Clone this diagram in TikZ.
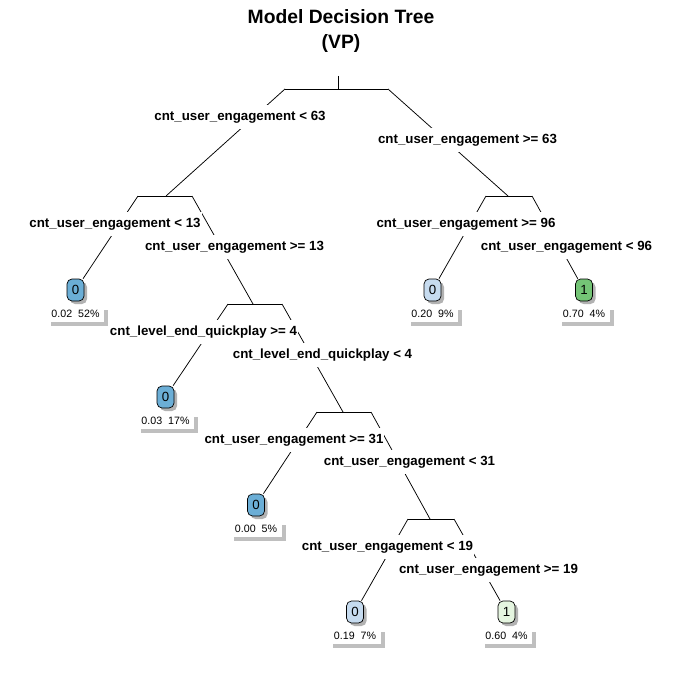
\documentclass[tikz,border=0pt]{standalone}
\usepackage{fontspec}
\setmainfont{Liberation Sans}
\usetikzlibrary{shadows,positioning}

\definecolor{leafdark}{RGB}{107,174,214}
\definecolor{leaflight}{RGB}{198,219,239}
\definecolor{leafgreen}{RGB}{116,196,118}
\definecolor{leafpale}{RGB}{229,245,224}

\begin{document}
\begin{tikzpicture}[
  x=1pt,y=-1pt,
  branch/.style={line width=0.75pt},
  split/.style={fill=white,inner xsep=1pt,inner ysep=0pt,minimum height=24pt,
                yshift=-2pt,font=\fontsize{13.3}{15}\selectfont\bfseries},
  leaf/.style={draw,line width=0.7pt,rounded corners=5pt,minimum width=17pt,
               minimum height=22pt,inner sep=0pt,font=\fontsize{13.3}{15}\selectfont,
               drop shadow={shadow xshift=3pt,shadow yshift=-3pt,fill=black!30,opacity=1}},
  share/.style={fill=white,inner xsep=4.5pt,inner ysep=0pt,minimum height=16pt,
                font=\fontsize{10.67}{12}\selectfont,
                drop shadow={shadow xshift=4pt,shadow yshift=-4pt,fill=black!25,opacity=1}}
]
\useasboundingbox (0,0) rectangle (684,682);

\node[font=\fontsize{19.3}{25}\selectfont\bfseries,align=center] (title) at (341,31)
  {Model Decision Tree\\(VP)};

% split bars
\coordinate (top) at (338,76);
\coordinate (b1l) at (285,89);  \coordinate (b1r) at (388,89);
\coordinate (b2)  at (166,196); \coordinate (b2l) at (138,196); \coordinate (b2r) at (192,196);
\coordinate (b3)  at (508,196); \coordinate (b3l) at (486,196); \coordinate (b3r) at (532,196);
\coordinate (b4)  at (253,304); \coordinate (b4l) at (228,304); \coordinate (b4r) at (282,304);
\coordinate (b5)  at (343,412); \coordinate (b5l) at (317,412); \coordinate (b5r) at (371,412);
\coordinate (b6)  at (430,519); \coordinate (b6l) at (408,519); \coordinate (b6r) at (454,519);

% leaves
\node[leaf,fill=leafdark]  (l1) at (75.5,290) {0};
\node[leaf,fill=leafdark]  (l2) at (165.5,397) {0};
\node[leaf,fill=leafdark]  (l3) at (256,505) {0};
\node[leaf,fill=leaflight] (l4) at (355,612) {0};
\node[leaf,fill=leafpale]  (l5) at (506.5,612) {1};
\node[leaf,fill=leaflight] (l6) at (432.5,290) {0};
\node[leaf,fill=leafgreen] (l7) at (584,290) {1};

\node[share,below=4pt of l1] (p1) {0.02\ \ 52\%};
\node[share,below=4pt of l2] (p2) {0.03\ \ 17\%};
\node[share,below=4pt of l3] (p3) {0.00\ \ 5\%};
\node[share,below=4pt of l4] (p4) {0.19\ \ 7\%};
\node[share,below=4pt of l5] (p5) {0.60\ \ 4\%};
\node[share,below=4pt of l6] (p6) {0.20\ \ 9\%};
\node[share,below=4pt of l7] (p7) {0.70\ \ 4\%};

% branches
\draw[branch] (top) -- (top |- b1l);
\draw[branch] (b1l) -- (b1r);
\draw[branch] (b1l) -- (b2);
\draw[branch] (b1r) -- (b3);
\draw[branch] (b2l) -- (b2r);
\draw[branch] (b2l) -- (l1);
\draw[branch] (b2r) -- (b4);
\draw[branch] (b3l) -- (b3r);
\draw[branch] (b3l) -- (l6);
\draw[branch] (b3r) -- (l7);
\draw[branch] (b4l) -- (b4r);
\draw[branch] (b4l) -- (l2);
\draw[branch] (b4r) -- (b5);
\draw[branch] (b5l) -- (b5r);
\draw[branch] (b5l) -- (l3);
\draw[branch] (b5r) -- (b6);
\draw[branch] (b6l) -- (b6r);
\draw[branch] (b6l) -- (l4);
\draw[branch] (b6r) -- (l5);

% split labels
\node[split] (s1l) at (240,115) {cnt\_user\_engagement < 63};
\node[split] (s1r) at (467.5,138) {cnt\_user\_engagement >= 63};
\node[split] (s2l) at (115,222) {cnt\_user\_engagement < 13};
\node[split] (s2r) at (234.5,245) {cnt\_user\_engagement >= 13};
\node[split] (s3l) at (466,222) {cnt\_user\_engagement >= 96};
\node[split] (s3r) at (566.5,245) {cnt\_user\_engagement < 96};
\node[split] (s4l) at (203.5,330) {cnt\_level\_end\_quickplay >= 4};
\node[split] (s4r) at (322.5,353) {cnt\_level\_end\_quickplay < 4};
\node[split] (s5l) at (294,438) {cnt\_user\_engagement >= 31};
\node[split] (s5r) at (409.5,460) {cnt\_user\_engagement < 31};
\node[split] (s6l) at (387.5,545) {cnt\_user\_engagement < 19};
\node[split] (s6r) at (488.5,568) {cnt\_user\_engagement >= 19};
\end{tikzpicture}
\end{document}
